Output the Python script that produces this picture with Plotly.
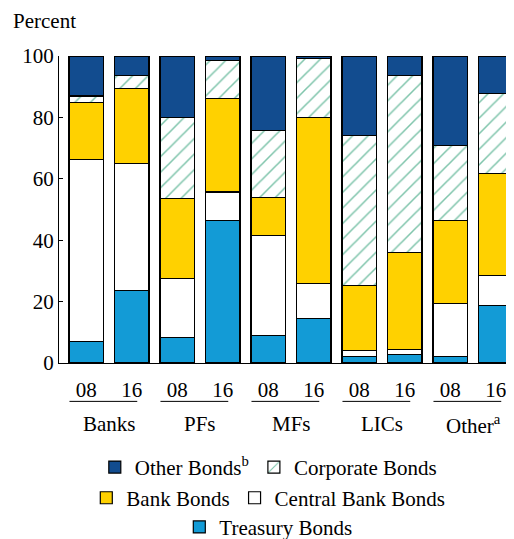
import plotly.graph_objects as go

GROUPS = ["Banks", "PFs", "MFs", "LICs", "Other<sup>a</sup>"]
YEARS = ["08", "16"]

# shares (percent) per bar, order: Banks08, Banks16, PFs08, PFs16, MFs08, MFs16, LICs08, LICs16, Other08, Other16
treasury = [7.0, 23.6, 8.4, 46.3, 8.9, 14.4, 2.0, 2.9, 2.0, 18.7]
central_bank = [59.4, 41.3, 19.1, 9.4, 32.6, 11.5, 2.2, 1.6, 17.3, 9.8]
bank = [18.5, 24.4, 26.0, 30.4, 12.4, 54.1, 21.1, 31.6, 27.1, 33.1]
corporate = [2.1, 4.3, 26.5, 12.4, 21.8, 19.1, 48.8, 57.5, 24.4, 26.3]
other = [13.0, 6.4, 20.0, 1.5, 24.3, 0.9, 25.9, 6.4, 29.2, 12.1]

FONT = "Liberation Serif"
FS = 21
DARK_BLUE = "#124c8f"
YELLOW = "#ffd100"
LIGHT_BLUE = "#139bd6"
HATCH = "#008a58"

x = list(range(len(treasury)))
tick_text = [YEARS[i % 2] for i in x]

series = [
    ("Treasury Bonds", treasury, LIGHT_BLUE, None, "legend3"),
    ("Central Bank Bonds", central_bank, "white", None, "legend2"),
    ("Bank Bonds", bank, YELLOW, None, "legend2"),
    ("Corporate Bonds", corporate, "white", "/", "legend"),
    ("Other Bonds<sup>b</sup>", other, DARK_BLUE, None, "legend"),
]

fig = go.Figure()
for name, vals, color, shape, leg in series:
    marker = dict(color=color, line=dict(color="black", width=1.2))
    if shape:
        marker["pattern"] = dict(shape=shape, fgcolor=HATCH, bgcolor="white",
                                 size=11, solidity=0.14)
    fig.add_bar(x=x, y=vals, name=name, marker=marker, width=0.76, legend=leg)

# underline under each 08/16 pair and group labels
for g, label in enumerate(GROUPS):
    fig.add_shape(type="line", xref="x", yref="paper",
                  x0=2 * g - 0.37, x1=2 * g + 1.12, y0=-0.125, y1=-0.125,
                  line=dict(color="black", width=1))
    fig.add_annotation(x=2 * g + 0.5, y=-0.2, xref="x", yref="paper",
                       text=label, showarrow=False, yanchor="middle",
                       font=dict(size=FS, family=FONT, color="black"))

fig.add_annotation(x=-0.105, y=1.115, xref="paper", yref="paper", text="Percent",
                   showarrow=False, xanchor="left", yanchor="middle",
                   font=dict(size=FS, family=FONT, color="black"))

leg_common = dict(orientation="h", xanchor="center", x=0.46, yanchor="middle",
                  traceorder="reversed", bgcolor="rgba(0,0,0,0)",
                  font=dict(size=FS, family=FONT, color="black"),
                  itemwidth=30)

# the page body has an 8px margin, so the figure is 8px smaller than the window
fig.update_layout(
    width=506, height=531,
    margin=dict(l=51, r=0, t=48, b=176, autoexpand=False),
    barmode="stack",
    plot_bgcolor="white", paper_bgcolor="white",
    font=dict(family=FONT, size=FS, color="black"),
    legend=dict(y=-0.34, **leg_common),
    legend2=dict(y=-0.44, **leg_common),
    legend3=dict(y=-0.535, **leg_common),
    xaxis=dict(tickmode="array", tickvals=x, ticktext=tick_text,
               range=[-0.6, 9.4], showline=True, linecolor="black",
               linewidth=1, ticks="", showgrid=False, zeroline=False,
               automargin=False, ticklabelstandoff=8,
               tickfont=dict(size=FS, family=FONT)),
    yaxis=dict(range=[0, 100], tickvals=[0, 20, 40, 60, 80, 100],
               showline=True, linecolor="black", linewidth=1,
               ticks="inside", ticklen=4, tickcolor="black",
               showgrid=False, zeroline=False, automargin=False,
               tickfont=dict(size=FS, family=FONT)),
)

fig.write_html("out.html")
